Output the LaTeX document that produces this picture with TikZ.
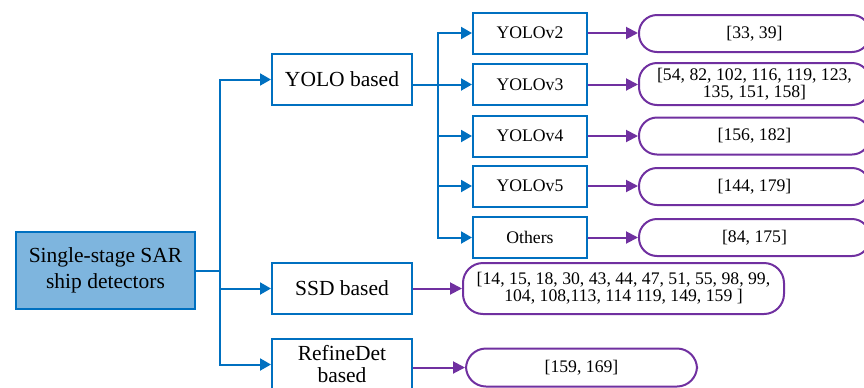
\documentclass[tikz,border=0pt]{standalone}
\usepackage{fontspec}
\setmainfont{Liberation Serif}
\usetikzlibrary{arrows.meta}
\definecolor{linkblue}{RGB}{0,112,192}
\definecolor{refpurple}{RGB}{112,48,160}
\definecolor{rootfill}{RGB}{126,181,222}
\tikzset{
  bigbox/.style={draw=linkblue, line width=1pt, minimum width=70pt, minimum height=25.5pt,
    inner sep=0pt, align=center, font=\fontsize{10.75}{11}\selectfont},
  smallbox/.style={draw=linkblue, line width=1pt, minimum width=57pt, minimum height=20.5pt,
    inner sep=0pt, align=center, font=\fontsize{8.85}{8.5}\selectfont},
  refbox/.style={draw=refpurple, line width=1pt, rounded corners=9pt, minimum height=18.5pt,
    inner sep=0pt, align=center, font=\fontsize{8.85}{8.5}\selectfont},
  barrow/.style={draw=linkblue, line width=1pt, -{Triangle[length=5.5pt,width=6pt]}},
  parrow/.style={draw=refpurple, line width=1pt, -{Triangle[length=6pt,width=6pt]}},
}
\begin{document}
\begin{tikzpicture}[x=0.5pt,y=-0.5pt]
\useasboundingbox (0,0) rectangle (864,387);

% root
\node[draw=linkblue, fill=rootfill, line width=1pt, minimum width=89.5pt, minimum height=38.5pt,
  inner sep=0pt, align=center, font=\fontsize{10.75}{13}\selectfont]
  (root) at (105.5,270.5) {Single-stage SAR\\ship detectors};

% first level
\node[bigbox] (yolo) at (342,79.5) {YOLO based};
\node[bigbox] (ssd) at (342,288.5) {SSD based};
\node[bigbox] (refine) at (342,364.5) {RefineDet\\based};

% YOLO versions
\node[smallbox] (v2) at (530,33) {YOLOv2};
\node[smallbox] (v3) at (530,84.5) {YOLOv3};
\node[smallbox] (v4) at (530,136) {YOLOv4};
\node[smallbox] (v5) at (530,186) {YOLOv5};
\node[smallbox] (oth) at (530,237.5) {Others};

% reference lists
\node[refbox, minimum width=115.5pt] (r2) at (754.5,33.5) {[33, 39]};
\node[refbox, minimum width=115.5pt, minimum height=21pt] (r3) at (754.5,84) {[54, 82, 102, 116, 119, 123,\\135, 151, 158]};
\node[refbox, minimum width=115.5pt] (r4) at (754.5,136) {[156, 182]};
\node[refbox, minimum width=115.5pt] (r5) at (754.5,186.5) {[144, 179]};
\node[refbox, minimum width=115.5pt] (ro) at (754.5,237.5) {[84, 175]};
\node[refbox, minimum width=160.5pt, minimum height=25.5pt, rounded corners=10pt] (rs) at (623.5,288.5)
  {[14, 15, 18, 30, 43, 44, 47, 51, 55, 98, 99,\\104, 108,113, 114 119, 149, 159 ]};
\node[refbox, minimum width=115.5pt, minimum height=19pt, rounded corners=10pt] (rr) at (581.5,367.5) {[159, 169]};

% root to first level
\coordinate (j1) at (220,271);
\draw[linkblue, line width=1pt] (root.east |- j1) -- (j1);
\draw[barrow] (j1) |- (yolo.west);
\draw[barrow] (j1) |- (ssd.west);
\draw[barrow] (j1) |- (refine.west);

% YOLO based to versions
\coordinate (j2) at (438,84.5);
\draw[barrow] (yolo.east |- v3.west) -- (v3.west);
\draw[barrow] (j2) |- (v2.west);
\draw[barrow] (j2) |- (v4.west);
\draw[barrow] (j2) |- (v5.west);
\draw[barrow] (j2) |- (oth.west);

% methods to references
\draw[parrow] (v2.east) -- (r2.west |- v2.east);
\draw[parrow] (v3.east) -- (r3.west |- v3.east);
\draw[parrow] (v4.east) -- (r4.west |- v4.east);
\draw[parrow] (v5.east) -- (r5.west |- v5.east);
\draw[parrow] (oth.east) -- (ro.west |- oth.east);
\draw[parrow] (ssd.east) -- (rs.west |- ssd.east);
\draw[parrow] (refine.east |- rr.west) -- (rr.west);
\end{tikzpicture}
\end{document}
